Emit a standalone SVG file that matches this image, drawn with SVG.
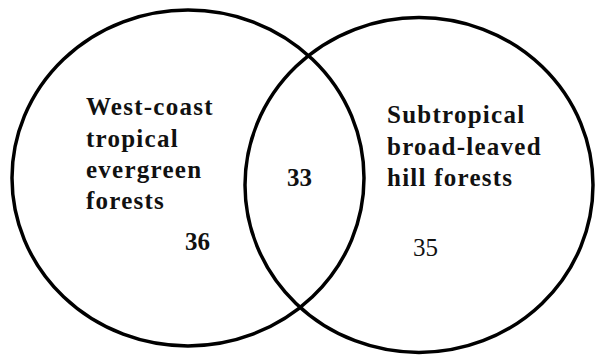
<svg xmlns="http://www.w3.org/2000/svg" width="595" height="356" viewBox="0 0 595 356">
<style>
.c{fill:none;stroke:#000;stroke-width:3.5}
.t{font-family:"Liberation Serif","Times New Roman",serif;font-size:25px;font-weight:bold;letter-spacing:1.25px;fill:#111}
.n{font-family:"Liberation Serif","Times New Roman",serif;font-size:25px;fill:#111}
</style>
<rect width="595" height="356" fill="#fff"/>
<g id="left">
<ellipse class="c" cx="188" cy="178" rx="176" ry="168"/>
<text class="t" x="86" y="115">West-coast</text>
<text class="t" x="86" y="146.5">tropical</text>
<text class="t" x="86" y="178">evergreen</text>
<text class="t" x="86" y="209">forests</text>
<text class="n" x="185" y="250" font-weight="bold">36</text>
</g>
<g id="right">
<ellipse class="c" cx="419" cy="185" rx="174" ry="167.5"/>
<text class="t" x="387" y="123">Subtropical</text>
<text class="t" x="387" y="154.5">broad-leaved</text>
<text class="t" x="387" y="186">hill forests</text>
<text class="n" x="413" y="256">35</text>
</g>
<g id="overlap">
<text class="n" x="287" y="186" font-weight="bold">33</text>
</g>
</svg>
